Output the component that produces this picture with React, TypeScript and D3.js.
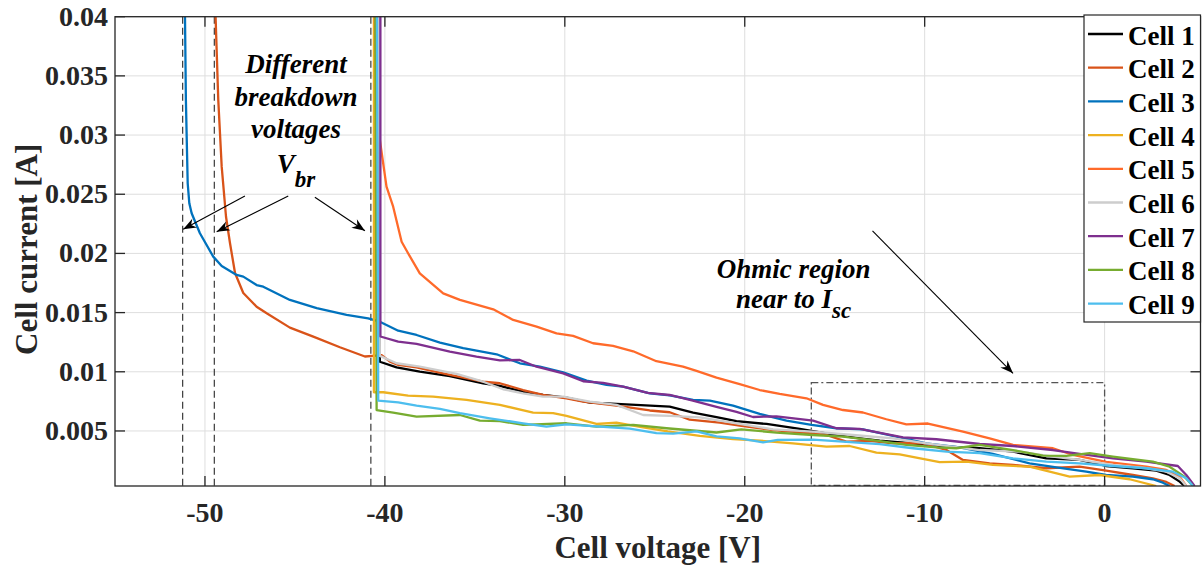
import React from "react";
import * as d3 from "d3";

// ---------- data (V in volts, I in mA) ----------
const seriesNames = ["Cell 1", "Cell 2", "Cell 3", "Cell 4", "Cell 5", "Cell 6", "Cell 7", "Cell 8", "Cell 9"];
const seriesColors = ["#000000", "#D95319", "#0072BD", "#EDB120", "#FF6A2A", "#CDCDCD", "#7E2F8E", "#77AC30", "#4DBEEE"];

const xTicks = [-50, -40, -30, -20, -10, 0];
const yTicks = [0.005, 0.01, 0.015, 0.02, 0.025, 0.03, 0.035, 0.04];
const yTickLabels = ["0.005", "0.01", "0.015", "0.02", "0.025", "0.03", "0.035", "0.04"];

const cell1: [number, number][] = [
  [-40.33, 40], [-40.28, 10.85], [-39.35, 10.38], [-38.06, 10.01], [-36.39, 9.63], [-34.54, 9.03], [-33.61, 8.8],
  [-32.32, 8.32], [-31.21, 8.04], [-29.91, 7.81], [-28.61, 7.39], [-27.13, 7.28], [-24.17, 7.05], [-22.87, 6.55],
  [-21.57, 6.16], [-20.46, 5.84], [-18.79, 5.59], [-16.94, 5.17], [-14.91, 4.64], [-13.61, 4.38], [-12.5, 4.18],
  [-10.65, 3.96], [-8.79, 3.67], [-6.94, 3.54], [-5.09, 3.25], [-3.24, 2.69], [-1.39, 2.55], [0.09, 2.04],
  [1.57, 1.85], [2.87, 1.65], [3.61, 1.28], [4.17, 0.72], [4.44, 0.35],
];
const cell2: [number, number][] = [
  [-49.41, 40], [-49.26, 32.96], [-49.07, 27.33], [-48.83, 23.1], [-48.61, 20.88], [-48.33, 18.35], [-47.87, 16.66],
  [-47.13, 15.5], [-46.57, 14.94], [-45.28, 13.73], [-43.98, 12.97], [-42.5, 12.07], [-41.11, 11.29], [-40.65, 11.34],
  [-40.18, 11.4], [-39.72, 10.85], [-39.26, 10.58], [-38.24, 10.38], [-36.39, 9.73], [-34.54, 9.16], [-33.61, 9.03],
  [-32.32, 8.46], [-31.21, 8.04], [-29.91, 7.76], [-28.98, 7.48], [-27.13, 7.14], [-25.28, 6.73], [-24.17, 6.58],
  [-23.06, 5.95], [-21.39, 5.7], [-20.28, 5.45], [-18.43, 5.08], [-16.76, 4.86], [-15.46, 4.66], [-14.35, 4.1],
  [-13.06, 4.16], [-11.76, 3.96], [-10.09, 3.96], [-8.79, 3.39], [-7.87, 2.55], [-6.39, 2.27], [-5.09, 2.13],
  [-3.24, 1.85], [-1.39, 1.98], [0.09, 1.65], [1.57, 1.28], [2.68, 1.0], [3.43, 0.69], [3.89, 0.35],
];
const cell3: [number, number][] = [
  [-51.11, 40], [-51.06, 32.96], [-50.96, 25.93], [-50.87, 24.24], [-50.74, 23.39], [-50.28, 21.7], [-49.54, 19.73],
  [-49.07, 18.94], [-48.24, 18.18], [-47.87, 18.04], [-47.13, 17.33], [-46.76, 17.19], [-45.28, 16.07], [-43.79, 15.37],
  [-42.13, 14.8], [-40.93, 14.52], [-40.28, 14.23], [-39.26, 13.47], [-38.24, 13.11], [-36.94, 12.46], [-35.65, 11.99],
  [-33.79, 11.48], [-32.5, 10.72], [-31.39, 10.43], [-30.09, 9.96], [-28.79, 9.25], [-27.68, 8.89], [-26.76, 8.74],
  [-25.28, 8.18], [-24.17, 8.0], [-22.87, 7.62], [-21.94, 7.56], [-20.65, 7.14], [-19.17, 6.44], [-17.68, 5.87],
  [-16.29, 5.51], [-14.91, 5.23], [-13.43, 5.14], [-11.57, 4.52], [-9.91, 3.96], [-8.06, 3.62], [-6.21, 3.06],
  [-4.17, 2.27], [-2.68, 1.93], [-1.02, 1.56], [0.09, 1.28], [1.57, 1.14], [2.68, 0.92], [3.24, 0.63], [3.61, 0.35],
];
const cell4: [number, number][] = [
  [-40.61, 40], [-40.61, 8.27], [-40.09, 8.27], [-38.71, 7.98], [-37.32, 7.9], [-35.46, 7.62], [-33.61, 7.2],
  [-31.76, 6.55], [-30.65, 6.5], [-29.91, 6.27], [-28.24, 5.59], [-27.13, 5.7], [-25.65, 5.3], [-24.28, 4.96],
  [-22.5, 4.59], [-20.65, 4.31], [-19.17, 4.18], [-17.32, 3.96], [-15.46, 3.67], [-14.17, 3.73], [-12.68, 3.17],
  [-11.39, 3.03], [-9.17, 2.36], [-7.68, 2.41], [-6.21, 2.13], [-4.17, 1.98], [-1.94, 1.14], [-0.28, 1.28],
  [1.39, 0.92], [2.87, 0.35],
];
const cell5: [number, number][] = [
  [-40.56, 40], [-40.46, 32.96], [-40.28, 29.58], [-39.91, 25.64], [-39.54, 23.95], [-39.07, 20.99], [-38.71, 20.01],
  [-38.06, 18.32], [-36.76, 16.63], [-35.83, 16.07], [-33.98, 15.28], [-32.87, 14.38], [-31.57, 13.81], [-30.46, 13.25],
  [-29.54, 13.03], [-28.43, 12.41], [-27.32, 12.18], [-26.2, 11.73], [-24.91, 10.89], [-23.43, 10.43], [-22.68, 10.07],
  [-21.57, 9.5], [-20.28, 8.95], [-19.17, 8.46], [-18.06, 8.13], [-16.57, 7.76], [-15.65, 7.2], [-14.54, 6.77],
  [-13.43, 6.56], [-12.13, 5.99], [-11.02, 5.55], [-9.82, 5.63], [-7.87, 4.94], [-6.39, 4.38], [-5.09, 3.82],
  [-2.87, 3.54], [-1.76, 2.97], [0.09, 2.38], [2.32, 1.98], [3.43, 1.71], [4.17, 1.14], [4.54, 0.35],
];
const cell6: [number, number][] = [
  [-40.33, 40], [-40.28, 11.34], [-39.35, 10.72], [-38.06, 10.43], [-36.02, 9.82], [-34.54, 9.16], [-33.43, 8.52],
  [-32.32, 8.18], [-31.21, 7.9], [-30.09, 7.9], [-28.61, 7.48], [-27.13, 7.2], [-25.65, 6.35], [-24.17, 6.27],
  [-22.5, 6.14], [-20.46, 5.65], [-18.43, 5.14], [-16.2, 4.94], [-13.98, 4.66], [-11.76, 4.38], [-9.91, 3.96],
  [-6.94, 3.39], [-4.72, 3.25], [-2.87, 2.83], [-1.39, 2.55], [0.46, 2.13], [2.32, 1.85], [3.43, 1.56],
  [4.17, 1.0], [4.54, 0.35],
];
const cell7: [number, number][] = [
  [-40.25, 40], [-40.25, 12.98], [-39.26, 12.54], [-38.24, 12.35], [-36.39, 11.7], [-34.91, 11.28], [-33.61, 10.96],
  [-32.5, 11.0], [-31.57, 10.43], [-30.09, 9.87], [-28.98, 9.2], [-27.87, 9.06], [-26.76, 8.74], [-25.39, 8.21],
  [-24.17, 8.04], [-22.94, 7.58], [-21.57, 7.03], [-20.46, 6.61], [-19.54, 6.18], [-18.24, 6.24], [-16.2, 5.87],
  [-14.91, 5.23], [-13.61, 5.17], [-11.2, 4.45], [-9.35, 4.3], [-6.94, 3.9], [-5.09, 3.73], [-2.87, 3.39],
  [-1.39, 3.06], [0.46, 2.69], [2.32, 2.41], [4.07, 2.04], [4.54, 1.28], [5.0, 0.35],
];
const cell8: [number, number][] = [
  [-40.53, 40], [-40.46, 6.77], [-39.54, 6.55], [-38.24, 6.21], [-35.83, 6.35], [-34.72, 5.87], [-33.61, 5.84],
  [-32.32, 5.51], [-29.91, 5.65], [-28.24, 5.36], [-26.2, 5.51], [-24.35, 5.23], [-21.57, 4.87], [-20.19, 5.14],
  [-18.24, 4.86], [-16.2, 4.66], [-14.54, 4.52], [-12.68, 4.18], [-11.02, 3.82], [-9.35, 3.62], [-8.24, 3.54],
  [-6.94, 3.82], [-5.09, 3.39], [-3.43, 2.91], [-2.13, 2.89], [-0.83, 3.12], [0.46, 2.83], [1.57, 2.61],
  [2.68, 2.41], [3.61, 1.98], [4.44, 1.14], [4.91, 0.35],
];
const cell9: [number, number][] = [
  [-40.44, 40], [-40.37, 7.56], [-39.26, 7.42], [-38.24, 7.14], [-36.94, 6.86], [-35.83, 6.5], [-34.17, 6.07],
  [-32.32, 5.65], [-31.02, 5.36], [-29.91, 5.55], [-28.06, 5.36], [-26.39, 5.19], [-24.91, 4.81], [-23.98, 4.77],
  [-22.68, 4.97], [-21.57, 4.55], [-20.28, 4.38], [-18.98, 4.03], [-18.17, 4.24], [-16.2, 4.27], [-14.35, 4.07],
  [-12.5, 3.88], [-10.65, 3.54], [-8.79, 3.25], [-6.94, 3.12], [-5.09, 2.69], [-3.24, 2.41], [-1.39, 2.27],
  [0.46, 2.04], [2.32, 1.85], [3.79, 1.56], [4.54, 1.0], [4.91, 0.35],
];
const allCells = [cell1, cell2, cell3, cell4, cell5, cell6, cell7, cell8, cell9];

// breakdown voltage markers (V)
const breakdownVoltages = [-51.24, -49.48, -40.78];
// ohmic region box [Vmin, Vmax, Imin(mA), Imax(mA)]
const ohmicBox = [-16.3, 0, 0.41, 9.08];

export default function App() {
  const W = 1202, H = 567;
  const left = 115, right = 1200.5, top = 16.7, bottom = 486;
  const x = d3.scaleLinear().domain([-55, 5.33]).range([left, right]);
  const y = d3.scaleLinear().domain([0.00035, 0.04]).range([bottom, top]);
  const line = d3.line<[number, number]>().x(d => x(d[0])).y(d => y(d[1] / 1000));
  const font = '"Liberation Serif", "Times New Roman", Times, serif';
  const axisColor = "#262626";
  const tickLen = 10;

  const arrows = [
    [-47.78, 24.85, -51.21, 22.04],
    [-45.37, 24.85, -49.35, 21.84],
    [-43.89, 24.74, -41.11, 21.92],
    [-12.9, 21.9, -5.09, 9.87],
  ];
  const yA = (mA: number) => y(mA / 1000);

  return (
    <svg width={W} height={H} style={{ position: "absolute", left: 0, top: 0, background: "#fff", fontFamily: font }}>
      <defs>
        <clipPath id="plotclip">
          <rect x={left} y={top} width={right - left} height={bottom - top} />
        </clipPath>
        <marker id="arrowhead" viewBox="-14 -6 16 12" refX={0} refY={0} markerWidth={16} markerHeight={12}
          markerUnits="userSpaceOnUse" orient="auto">
          <path d="M0,0 L-13,-5 L-9,0 L-13,5 Z" fill="#000" />
        </marker>
      </defs>
      <rect x={0} y={0} width={W} height={H} fill="#fff" />
      <g stroke="#dedede" strokeWidth={1}>
        {xTicks.map(t => <line key={"gx" + t} x1={x(t)} x2={x(t)} y1={top} y2={bottom} />)}
        {yTicks.map(t => <line key={"gy" + t} x1={left} x2={right} y1={y(t)} y2={y(t)} />)}
      </g>
      <g stroke="#3a3a3a" strokeWidth={1.2} strokeDasharray="7,4">
        {breakdownVoltages.map(v => <line key={"bd" + v} x1={x(v)} x2={x(v)} y1={top} y2={bottom} />)}
      </g>
      <rect x={x(ohmicBox[0])} y={yA(ohmicBox[3])} width={x(ohmicBox[1]) - x(ohmicBox[0])}
        height={yA(ohmicBox[2]) - yA(ohmicBox[3])} fill="none" stroke="#555" strokeWidth={1.3}
        strokeDasharray="7,3,2,3" />
      <g clipPath="url(#plotclip)" fill="none" strokeWidth={2.3} strokeLinejoin="round">
        {allCells.map((c, i) => <path key={"c" + i} d={line(c) || ""} stroke={seriesColors[i]} />)}
      </g>
      <g stroke={axisColor} strokeWidth={1.3}>
        <rect x={left} y={top} width={right - left} height={bottom - top} fill="none" />
        {xTicks.map(t => (
          <g key={"tx" + t}>
            <line x1={x(t)} x2={x(t)} y1={bottom} y2={bottom - tickLen} />
            <line x1={x(t)} x2={x(t)} y1={top} y2={top + tickLen} />
          </g>
        ))}
        {yTicks.map(t => (
          <g key={"ty" + t}>
            <line x1={left} x2={left + tickLen} y1={y(t)} y2={y(t)} />
            <line x1={right} x2={right - tickLen} y1={y(t)} y2={y(t)} />
          </g>
        ))}
      </g>
      <g fontSize={28} fontWeight="bold" fill={axisColor} style={{ fontFamily: font }}>
        {xTicks.map(t => (
          <text key={"lx" + t} x={x(t)} y={522} textAnchor="middle">{t === 0 ? "0" : "-" + Math.abs(t)}</text>
        ))}
        {yTicks.map((t, i) => (
          <text key={"ly" + t} x={108} y={y(t) + 9} textAnchor="end">{yTickLabels[i]}</text>
        ))}
      </g>
      <text x={(left + right) / 2} y={558} textAnchor="middle" fontSize={31} fontWeight="bold" fill={axisColor}
        style={{ fontFamily: font }}>
        Cell voltage [V]
      </text>
      <text transform={`translate(37,${(top + bottom) / 2 - 2}) rotate(-90)`} textAnchor="middle" fontSize={31}
        fontWeight="bold" fill={axisColor} style={{ fontFamily: font }}>
        Cell current [A]
      </text>
      <g stroke="#000" strokeWidth={1.1}>
        {arrows.map((a, i) => (
          <line key={"ar" + i} x1={x(a[0])} y1={yA(a[1])} x2={x(a[2])} y2={yA(a[3])} markerEnd="url(#arrowhead)" />
        ))}
      </g>
      <g fontSize={27} fontWeight="bold" fontStyle="italic" fill="#000" textAnchor="middle" style={{ fontFamily: font }}>
        <text x={x(-44.94)} y={yA(35.24)}>Different</text>
        <text x={x(-44.94)} y={yA(32.46)}>breakdown</text>
        <text x={x(-44.94)} y={yA(29.75)}>voltages</text>
        <text x={x(-44.94)} y={yA(26.8)}>V<tspan fontSize={23} dy={14}>br</tspan></text>
        <text x={x(-17.28)} y={yA(17.93)}>Ohmic region</text>
        <text x={x(-17.28)} y={yA(15.39)}>near to I<tspan fontSize={23} dy={10}>sc</tspan></text>
      </g>
      <g style={{ fontFamily: font }}>
        <rect x={1084} y={15} width={116.5} height={307} fill="#fff" stroke={axisColor} strokeWidth={1.2} />
        {seriesNames.map((n, i) => (
          <g key={"lg" + i}>
            <line x1={1088} x2={1123} y1={34 + i * 33.7} y2={34 + i * 33.7} stroke={seriesColors[i]} strokeWidth={2.3} />
            <text x={1128} y={44.5 + i * 33.7} fontSize={27} fontWeight="bold" fill="#000">{n}</text>
          </g>
        ))}
      </g>
    </svg>
  );
}
